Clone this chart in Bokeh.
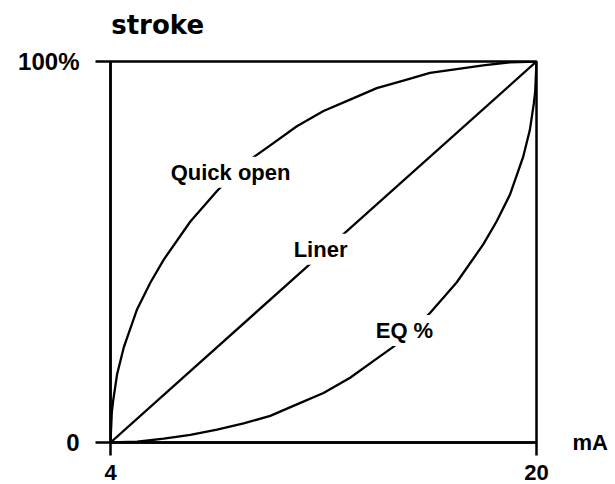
from bokeh.plotting import figure
from bokeh.models import Range1d, FixedTicker, Label, LinearAxis
from bokeh.embed import file_html
from bokeh.resources import INLINE

# ---- data ----
ma_liner = [4, 20]
liner = [0, 100]

ma_quick = [4, 4.05, 4.1, 4.25, 4.5, 4.75, 5, 5.5, 6, 7, 8, 9, 10, 11, 12, 13, 14, 15, 16, 17, 18, 19, 20]
quick_open = [0, 8, 11, 18, 25, 30, 35, 42, 48, 58, 66, 73, 78, 83, 87, 90, 93, 95, 97, 98, 99, 99.8, 100]

ma_eq = [4, 5, 6, 7, 8, 9, 10, 11, 12, 13, 14, 15, 16, 17, 18, 18.5, 19, 19.25, 19.5, 19.75, 19.9, 19.95, 20]
eq_pct = [0, 0.2, 1, 2, 3.4, 5, 7, 10, 13, 17, 22, 27, 34, 42, 52, 58, 65, 70, 75, 82, 89, 92, 100]

x_ticks = [4, 20]
x_tick_labels = ["4", "20"]
y_ticks = [0, 100]
y_tick_labels = ["0", "100%"]

curve_labels = ["Quick open", "Liner", "EQ %"]
x_title = "mA"
y_title = "stroke"

FONT = "Liberation Sans"

p = figure(width=615, height=484, output_backend="svg", toolbar_location=None,
           x_range=Range1d(4, 20), y_range=Range1d(0, 100),
           min_border_left=110, min_border_right=79, min_border_top=61, min_border_bottom=42)
p.title.visible = False
p.background_fill_color = "white"
p.border_fill_color = "white"
p.outline_line_color = "black"
p.outline_line_width = 2.5
p.grid.visible = False

for ax, ticks, labels, tick_out, size, standoff in (
        (p.xaxis[0], x_ticks, x_tick_labels, 13, "22px", 9),
        (p.yaxis[0], y_ticks, y_tick_labels, 15, "24px", 16)):
    ax.ticker = FixedTicker(ticks=ticks)
    ax.major_label_overrides = {t: l for t, l in zip(ticks, labels)}
    ax.minor_tick_line_color = None
    ax.major_tick_in = 0
    ax.major_tick_out = tick_out
    ax.major_tick_line_width = 2.5
    ax.major_tick_line_color = "black"
    ax.axis_line_width = 2.5
    ax.axis_line_color = "black"
    ax.major_label_text_font = FONT
    ax.major_label_text_font_style = "bold"
    ax.major_label_text_font_size = size
    ax.major_label_text_color = "black"
    ax.major_label_standoff = standoff
p.yaxis[0].major_label_orientation = "horizontal"

def title_axis(kind, where, tick, text, font, size, standoff):
    ax = kind(ticker=FixedTicker(ticks=[tick]),
              major_label_overrides={tick: text},
              axis_line_color=None, major_tick_line_color=None,
              minor_tick_line_color=None, major_tick_in=0, major_tick_out=0,
              major_label_standoff=standoff,
              major_label_text_font=font, major_label_text_font_style="bold",
              major_label_text_font_size=size, major_label_text_color="black",
              major_label_orientation="horizontal")
    p.add_layout(ax, where)

# "stroke" above the left axis, "mA" right of the bottom axis end
title_axis(LinearAxis, "above", 5.77, y_title, "DejaVu Sans", "26px", 22)
title_axis(LinearAxis, "right", 0, x_title, FONT, "22px", 36)

lw = 2.3
p.line(ma_liner, liner, line_color="black", line_width=lw)
p.line(ma_quick, quick_open, line_color="black", line_width=lw)
p.line(ma_eq, eq_pct, line_color="black", line_width=lw)

def add_label(x, y, text, size):
    p.add_layout(Label(x=x, y=y, text=text,
                       text_font=FONT, text_font_style="bold",
                       text_font_size=size, text_color="black", text_align="center",
                       text_baseline="middle", background_fill_color="white",
                       padding=3))

# curve labels (white boxes break the curves)
add_label(8.51, 70.9, curve_labels[0], "22px")
add_label(11.89, 50.7, curve_labels[1], "22px")
add_label(15.04, 29.4, curve_labels[2], "22px")

open("out.html", "w").write(file_html(p, INLINE))
